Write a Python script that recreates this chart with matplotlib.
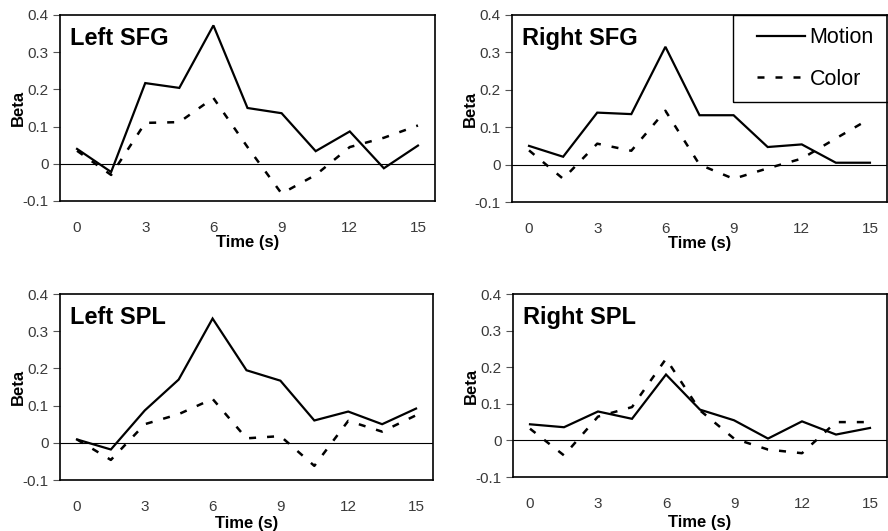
import matplotlib
matplotlib.use("Agg")
import matplotlib.pyplot as plt
from matplotlib.patches import Rectangle

# Time points (s), one every 1.5 s
time_s = [0, 1.5, 3, 4.5, 6, 7.5, 9, 10.5, 12, 13.5, 15]
tick_times = [0, 3, 6, 9, 12, 15]
y_ticks = [-0.1, 0, 0.1, 0.2, 0.3, 0.4]
y_tick_labels = ["-0.1", "0", "0.1", "0.2", "0.3", "0.4"]

region_names = ["Left SFG", "Right SFG", "Left SPL", "Right SPL"]

motion_left_sfg = [0.040, -0.022, 0.217, 0.204, 0.372, 0.150, 0.136, 0.034, 0.087, -0.012, 0.049]
color_left_sfg = [0.035, -0.030, 0.110, 0.112, 0.177, 0.045, -0.080, -0.030, 0.045, 0.070, 0.103]

motion_right_sfg = [0.050, 0.021, 0.139, 0.135, 0.315, 0.132, 0.132, 0.047, 0.054, 0.005, 0.005]
color_right_sfg = [0.038, -0.038, 0.056, 0.037, 0.144, 0.000, -0.038, -0.010, 0.016, 0.070, 0.123]

motion_left_spl = [0.009, -0.018, 0.087, 0.170, 0.334, 0.195, 0.167, 0.060, 0.084, 0.050, 0.092]
color_left_spl = [0.009, -0.046, 0.050, 0.077, 0.118, 0.012, 0.018, -0.062, 0.059, 0.030, 0.074]

motion_right_spl = [0.044, 0.036, 0.079, 0.059, 0.180, 0.084, 0.055, 0.005, 0.052, 0.016, 0.034]
color_right_spl = [0.032, -0.041, 0.065, 0.091, 0.223, 0.082, 0.005, -0.025, -0.035, 0.050, 0.050]

motion_series = [motion_left_sfg, motion_right_sfg, motion_left_spl, motion_right_spl]
color_series = [color_left_sfg, color_right_sfg, color_left_spl, color_right_spl]

plt.rcParams["font.family"] = ["Liberation Sans", "DejaVu Sans"]

fig = plt.figure(figsize=(8.88, 5.31), dpi=100)

# axes rectangles in figure pixels: (left, top, right, bottom)
W, H = 888, 531
boxes = [(60, 15, 435, 201), (512, 15, 887, 202), (60, 294, 433, 480), (513, 294, 887, 477)]
xlabel_pads = [0, 0, 1.5, 2.5]

for i, (name, mot, col, (l, t, r, b)) in enumerate(zip(region_names, motion_series, color_series, boxes)):
    ax = fig.add_axes([l / W, 1 - b / H, (r - l) / W, (b - t) / H])
    ax.axhline(0, color="black", lw=0.8, zorder=1)
    ax.plot(time_s, mot, color="black", lw=1.6, solid_joinstyle="miter", label="Motion", zorder=3)
    ax.plot(time_s, col, color="black", lw=1.8, dashes=(2.8, 4.4), dash_capstyle="butt",
            label="Color", zorder=2)
    ax.set_xlim(-0.75, 15.75)
    ax.set_ylim(-0.1, 0.4)
    ax.set_xticks(tick_times)
    ax.set_xticklabels([str(v) for v in tick_times], fontsize=11, color="#3a3a3a")
    ax.set_yticks(y_ticks)
    ax.set_yticklabels(y_tick_labels, fontsize=11, color="#3a3a3a")
    ax.tick_params(axis="x", length=0, pad=14.5)
    ax.tick_params(axis="y", length=5, width=0.8, pad=3, direction="out", color="#555555")
    for sp in ax.spines.values():
        sp.set_linewidth(1.2)
        sp.set_color("black")
    ax.set_xlabel("Time (s)", fontsize=12, fontweight="bold", labelpad=xlabel_pads[i])
    ax.set_ylabel("Beta", fontsize=12, fontweight="bold", labelpad=-2.5)
    ax.text(0.027, 0.935, name, transform=ax.transAxes, fontsize=17, fontweight="bold",
            ha="left", va="top")
    if i == 1:
        # legend entries, with a plain rectangular frame drawn around them
        leg = ax.legend(loc="upper left", bbox_to_anchor=((745 - l) / (r - l), 1.0 - 0.5 / (b - t)),
                        fontsize=15.5, frameon=False, handlelength=2.25, handletextpad=0.2,
                        borderpad=0.55, labelspacing=0.95, borderaxespad=0.0)
        frame = Rectangle((733 / W, 1 - 102 / H), 160 / W, 87 / H, transform=fig.transFigure,
                          fill=False, edgecolor="black", lw=1.0, zorder=5)
        fig.patches.append(frame)

fig.savefig("out.png", dpi=100)
